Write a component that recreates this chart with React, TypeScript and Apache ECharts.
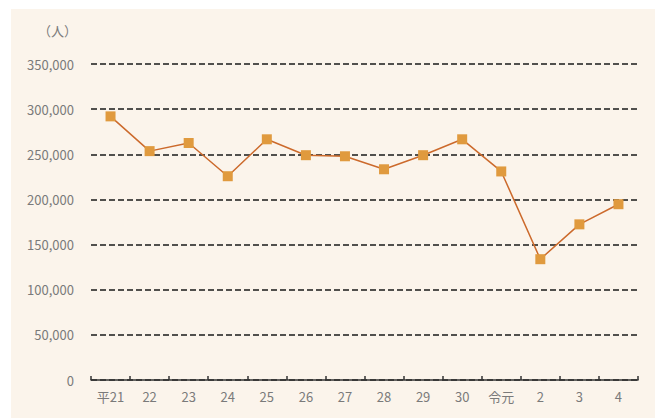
import React, { useEffect, useRef } from "react";
import * as echarts from "echarts";

const categories = ["平21", "22", "23", "24", "25", "26", "27", "28", "29", "30", "令元", "2", "3", "4"];
const visitors = [292000, 253500, 262500, 225700, 266600, 249000, 247800, 233400, 249000, 266600, 231000, 133800, 172400, 194700];
const yTicks = [0, 50000, 100000, 150000, 200000, 250000, 300000, 350000];
const unitLabel = "（人）";

export default function App() {
  const ref = useRef<HTMLDivElement>(null);
  useEffect(() => {
    if (!ref.current) return;
    const chart = echarts.init(ref.current, undefined, { renderer: "svg" });
    const font = "'Noto Sans CJK JP', 'Noto Sans', sans-serif";
    chart.setOption({
      animation: false,
      backgroundColor: "#ffffff",
      graphic: [
        {
          type: "rect",
          z: -10,
          shape: { x: 11, y: 9, width: 644, height: 409 },
          style: { fill: "#fbf4eb" },
          silent: true,
        },
        {
          type: "text",
          x: 38,
          y: 24,
          style: { text: unitLabel, fill: "#7a7a7a", font: `13px ${font}` },
        },
      ],
      grid: { left: 91, right: 17, top: 64, bottom: 38, containLabel: false },
      xAxis: {
        type: "category",
        data: categories,
        boundaryGap: true,
        axisLine: { show: true, lineStyle: { color: "#333333", width: 1.5 } },
        axisTick: { show: true, inside: true, length: 4, alignWithLabel: false, lineStyle: { color: "#333333", width: 1.5 } },
        axisLabel: { color: "#7a7a7a", fontSize: 13, fontFamily: font, margin: 10 },
        splitLine: { show: false },
      },
      yAxis: {
        type: "value",
        min: yTicks[0],
        max: yTicks[yTicks.length - 1],
        interval: 50000,
        axisLine: { show: false },
        axisTick: { show: false },
        axisLabel: {
          color: "#7a7a7a",
          fontSize: 13,
          fontFamily: font,
          margin: 17,
          formatter: (v: number) => v.toLocaleString("en-US"),
        },
        splitLine: { show: true, lineStyle: { color: "#1a1a1a", type: [6, 3], width: 1.5 } },
      },
      series: [
        {
          type: "line",
          data: visitors,
          symbol: "rect",
          symbolSize: 10,
          lineStyle: { color: "#cc6a2c", width: 1.5 },
          itemStyle: { color: "#e09a3e", borderWidth: 0 },
          z: 5,
        },
      ],
    });
    return () => chart.dispose();
  }, []);
  return <div ref={ref} style={{ position: "absolute", left: 0, top: 0, width: 655, height: 418 }} />;
}
